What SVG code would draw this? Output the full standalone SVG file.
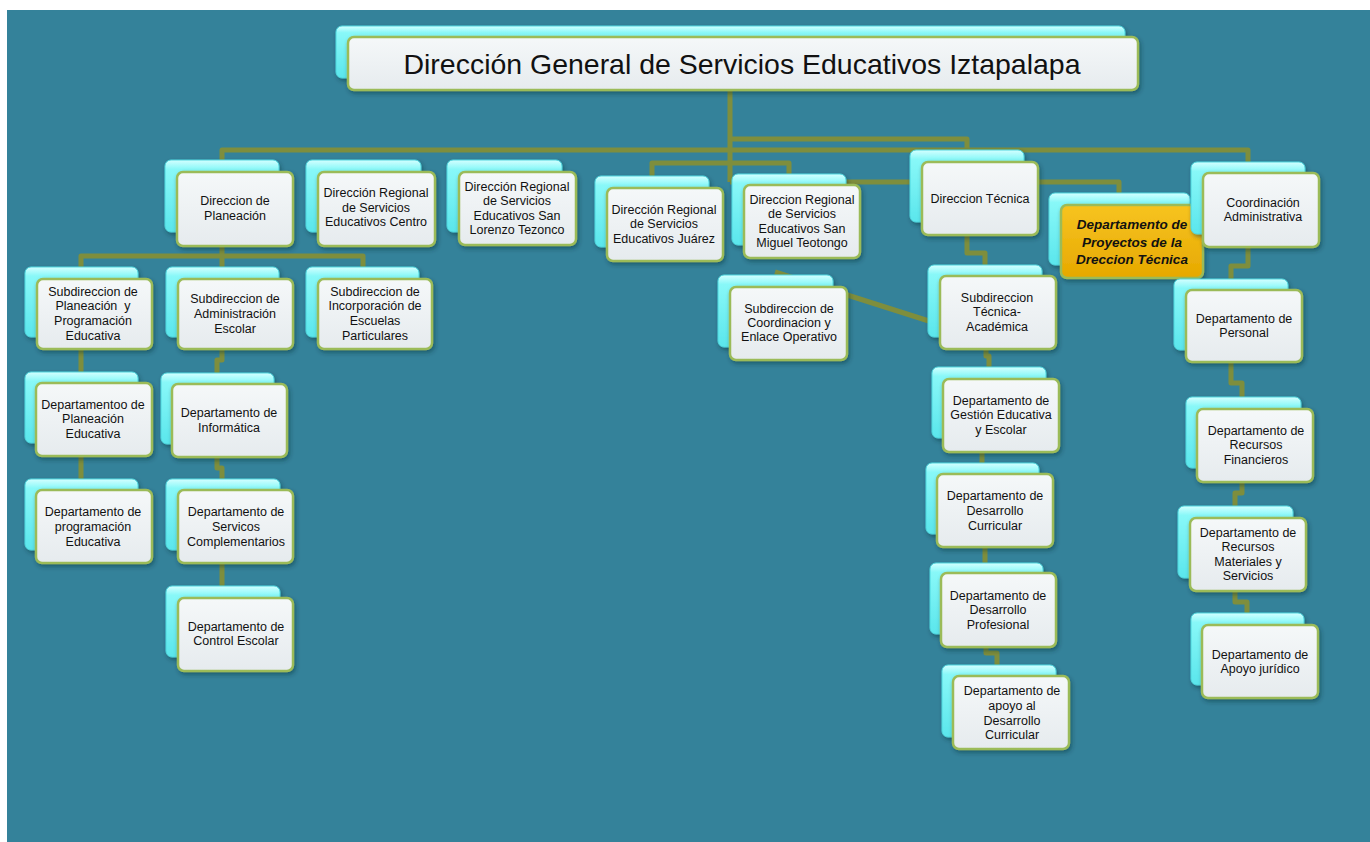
<svg xmlns="http://www.w3.org/2000/svg" width="1370" height="842" viewBox="0 0 1370 842">
<defs>
<linearGradient id="cy" x1="0" y1="0" x2="0" y2="1">
<stop offset="0" stop-color="#D4FFFF"/><stop offset="0.13" stop-color="#88F8F8"/><stop offset="1" stop-color="#5AE6EC"/>
</linearGradient>
<linearGradient id="wh" x1="0" y1="0" x2="0" y2="1">
<stop offset="0" stop-color="#F5F8F9"/><stop offset="1" stop-color="#E6EBEE"/>
</linearGradient>
<linearGradient id="gd" x1="0" y1="0" x2="0" y2="1">
<stop offset="0" stop-color="#F7C420"/><stop offset="1" stop-color="#E6A800"/>
</linearGradient>
<filter id="sh" x="-10%" y="-10%" width="130%" height="140%">
<feDropShadow dx="1.5" dy="2.5" stdDeviation="2" flood-color="#0B2A36" flood-opacity="0.45"/>
</filter>
</defs>
<style>
.back{fill:url(#cy);stroke:#4FD6DE;stroke-width:1;filter:url(#sh)}
.front{fill:url(#wh);stroke:#9BBB59;stroke-width:2.5;filter:url(#sh)}
.gold{fill:url(#gd);stroke:#9BBB59;stroke-width:2.5;filter:url(#sh)}
.t{font-family:"Liberation Sans",Arial,sans-serif;font-size:12.5px;fill:#111;text-anchor:middle}
.tg{font-family:"Liberation Sans",Arial,sans-serif;font-size:13.5px;font-weight:bold;font-style:italic;fill:#111;text-anchor:middle}
.tt{font-family:"Liberation Sans",Arial,sans-serif;font-size:28px;fill:#111;text-anchor:middle}
.c{fill:none;stroke:#7E8E3D;stroke-width:5;stroke-linejoin:round}
</style>
<rect x="0" y="0" width="1370" height="842" fill="#FFFFFF"/>
<rect x="7" y="10" width="1363" height="832" fill="#34829A"/>

<g id="connectors" class="c">
<path d="M730 91 V182"/>
<path d="M730 139 H967 V152"/>
<path d="M222 162 V150 H1248 V164"/>
<path d="M652 178 V163 H789 V176"/>
<path d="M730 182 H1119 V195"/>
<path d="M775 272 L932 322"/>
<path d="M222 246 V256"/>
<path d="M81 269 V256 H363 V269"/>
<path d="M222 256 V269"/>
<path d="M81 349 V374"/>
<path d="M81 456 V481"/>
<path d="M222 349 V360 H217 V375"/>
<path d="M217 457 V468 H222 V481"/>
<path d="M222 563 V588"/>
<path d="M967 235 V253 H985 V267"/>
<path d="M986 349 V356 H989 V369"/>
<path d="M982 452 V465"/>
<path d="M985 547 V565"/>
<path d="M986 647 V653 H997 V667"/>
<path d="M1248 247 V266 H1231 V281"/>
<path d="M1231 362 V383 H1242 V399"/>
<path d="M1242 482 V493 H1235 V508"/>
<path d="M1235 591 V602 H1247 V615"/>
</g>

<g id="n0"><rect class="back" x="336" y="26" width="789" height="52" rx="6"/><rect class="front" x="348" y="37" width="790" height="53" rx="6"/>
<text class="tt" x="742" y="74" textLength="677" lengthAdjust="spacingAndGlyphs">Dirección General de Servicios Educativos Iztapalapa</text></g>

<g id="n1"><rect class="back" x="165" y="160" width="114" height="72" rx="6"/><rect class="front" x="177" y="172" width="116" height="74" rx="6"/>
<text class="t" x="235" y="205">Direccion de</text><text class="t" x="235" y="220">Planeación</text></g>

<g id="n2"><rect class="back" x="306" y="160" width="115" height="72" rx="6"/><rect class="front" x="318" y="172" width="117" height="74" rx="6"/>
<text class="t" x="376" y="197">Dirección Regional</text><text class="t" x="376" y="212">de Servicios</text><text class="t" x="376" y="226">Educativos Centro</text></g>

<g id="n3"><rect class="back" x="447" y="160" width="115" height="72" rx="6"/><rect class="front" x="459" y="172" width="117" height="73" rx="6"/>
<text class="t" x="517" y="191">Dirección Regional</text><text class="t" x="517" y="205">de Servicios</text><text class="t" x="517" y="220">Educativos San</text><text class="t" x="517" y="234">Lorenzo Tezonco</text></g>

<g id="n4"><rect class="back" x="595" y="176" width="114" height="71" rx="6"/><rect class="front" x="607" y="188" width="116" height="73" rx="6"/>
<text class="t" x="664" y="214">Dirección Regional</text><text class="t" x="664" y="228">de Servicios</text><text class="t" x="664" y="243">Educativos Juárez</text></g>

<g id="n5"><rect class="back" x="732" y="174" width="114" height="71" rx="6"/><rect class="front" x="744" y="185" width="116" height="73" rx="6"/>
<text class="t" x="802" y="204">Direccion Regional</text><text class="t" x="802" y="218">de Servicios</text><text class="t" x="802" y="233">Educativos San</text><text class="t" x="802" y="247">Miguel Teotongo</text></g>

<g id="n6"><rect class="back" x="718" y="275" width="115" height="72" rx="6"/><rect class="front" x="730" y="287" width="117" height="73" rx="6"/>
<text class="t" x="789" y="313">Subdireccion de</text><text class="t" x="789" y="327">Coordinacion y</text><text class="t" x="789" y="341">Enlace Operativo</text></g>

<g id="n7"><rect class="back" x="910" y="150" width="114" height="72" rx="6"/><rect class="front" x="922" y="162" width="116" height="73" rx="6"/>
<text class="t" x="980" y="203">Direccion Técnica</text></g>

<g id="n8"><rect class="back" x="1049" y="193" width="141" height="72" rx="6"/><rect class="gold" x="1061" y="205" width="142" height="73" rx="6"/>
<text class="tg" x="1132" y="229">Departamento de</text><text class="tg" x="1132" y="247">Proyectos de la</text><text class="tg" x="1132" y="264">Dreccion Técnica</text></g>

<g id="n9"><rect class="back" x="1191" y="162" width="114" height="72" rx="6"/><rect class="front" x="1203" y="173" width="116" height="74" rx="6"/>
<text class="t" x="1263" y="207">Coordinación</text><text class="t" x="1263" y="221">Administrativa</text></g>

<g id="n10"><rect class="back" x="928" y="265" width="114" height="72" rx="6"/><rect class="front" x="940" y="276" width="116" height="73" rx="6"/>
<text class="t" x="997" y="302">Subdireccion</text><text class="t" x="997" y="316">Técnica-</text><text class="t" x="997" y="331">Académica</text></g>

<g id="n11"><rect class="back" x="1174" y="279" width="114" height="71" rx="6"/><rect class="front" x="1186" y="290" width="116" height="72" rx="6"/>
<text class="t" x="1244" y="323">Departamento de</text><text class="t" x="1244" y="337">Personal</text></g>

<g id="n12"><rect class="back" x="25" y="267" width="113" height="70" rx="6"/><rect class="front" x="37" y="279" width="115" height="70" rx="6"/>
<text class="t" x="93" y="296">Subdireccion de</text><text class="t" x="93" y="310" xml:space="preserve">Planeación  y</text><text class="t" x="93" y="325">Programación</text><text class="t" x="93" y="340">Educativa</text></g>

<g id="n13"><rect class="back" x="166" y="267" width="113" height="70" rx="6"/><rect class="front" x="178" y="279" width="115" height="70" rx="6"/>
<text class="t" x="235" y="303">Subdireccion de</text><text class="t" x="235" y="318">Administración</text><text class="t" x="235" y="333">Escolar</text></g>

<g id="n14"><rect class="back" x="306" y="267" width="113" height="70" rx="6"/><rect class="front" x="318" y="279" width="114" height="70" rx="6"/>
<text class="t" x="375" y="296">Subdireccion de</text><text class="t" x="375" y="310">Incorporación de</text><text class="t" x="375" y="325">Escuelas</text><text class="t" x="375" y="340">Particulares</text></g>

<g id="n15"><rect class="back" x="25" y="372" width="113" height="71" rx="6"/><rect class="front" x="36" y="383" width="116" height="73" rx="6"/>
<text class="t" x="93" y="409">Departamentoo de</text><text class="t" x="93" y="423">Planeación</text><text class="t" x="93" y="438">Educativa</text></g>

<g id="n16"><rect class="back" x="161" y="373" width="113" height="71" rx="6"/><rect class="front" x="172" y="384" width="115" height="73" rx="6"/>
<text class="t" x="229" y="417">Departamento de</text><text class="t" x="229" y="432">Informática</text></g>

<g id="n17"><rect class="back" x="25" y="479" width="113" height="71" rx="6"/><rect class="front" x="36" y="490" width="116" height="73" rx="6"/>
<text class="t" x="93" y="516">Departamento de</text><text class="t" x="93" y="531">programación</text><text class="t" x="93" y="546">Educativa</text></g>

<g id="n18"><rect class="back" x="166" y="479" width="114" height="71" rx="6"/><rect class="front" x="178" y="490" width="115" height="73" rx="6"/>
<text class="t" x="236" y="516">Departamento de</text><text class="t" x="236" y="531">Servicos</text><text class="t" x="236" y="546">Complementarios</text></g>

<g id="n19"><rect class="back" x="166" y="586" width="114" height="71" rx="6"/><rect class="front" x="178" y="598" width="115" height="73" rx="6"/>
<text class="t" x="236" y="631">Departamento de</text><text class="t" x="236" y="645">Control Escolar</text></g>

<g id="n20"><rect class="back" x="932" y="367" width="114" height="71" rx="6"/><rect class="front" x="943" y="379" width="116" height="73" rx="6"/>
<text class="t" x="1001" y="405">Departamento de</text><text class="t" x="1001" y="419">Gestión Educativa</text><text class="t" x="1001" y="434">y Escolar</text></g>

<g id="n21"><rect class="back" x="926" y="463" width="113" height="71" rx="6"/><rect class="front" x="937" y="474" width="116" height="73" rx="6"/>
<text class="t" x="995" y="500">Departamento de</text><text class="t" x="995" y="515">Desarrollo</text><text class="t" x="995" y="530">Curricular</text></g>

<g id="n22"><rect class="back" x="930" y="563" width="113" height="71" rx="6"/><rect class="front" x="941" y="573" width="115" height="74" rx="6"/>
<text class="t" x="998" y="600">Departamento de</text><text class="t" x="998" y="614">Desarrollo</text><text class="t" x="998" y="629">Profesional</text></g>

<g id="n23"><rect class="back" x="942" y="665" width="114" height="72" rx="6"/><rect class="front" x="953" y="676" width="116" height="73" rx="6"/>
<text class="t" x="1012" y="695">Departamento de</text><text class="t" x="1012" y="710">apoyo al</text><text class="t" x="1012" y="725">Desarrollo</text><text class="t" x="1012" y="739">Curricular</text></g>

<g id="n24"><rect class="back" x="1186" y="397" width="115" height="71" rx="6"/><rect class="front" x="1197" y="409" width="116" height="73" rx="6"/>
<text class="t" x="1256" y="435">Departamento de</text><text class="t" x="1256" y="449">Recursos</text><text class="t" x="1256" y="464">Financieros</text></g>

<g id="n25"><rect class="back" x="1178" y="506" width="115" height="72" rx="6"/><rect class="front" x="1190" y="518" width="116" height="73" rx="6"/>
<text class="t" x="1248" y="537">Departamento de</text><text class="t" x="1248" y="551">Recursos</text><text class="t" x="1248" y="566">Materiales y</text><text class="t" x="1248" y="580">Servicios</text></g>

<g id="n26"><rect class="back" x="1191" y="613" width="113" height="72" rx="6"/><rect class="front" x="1202" y="625" width="116" height="73" rx="6"/>
<text class="t" x="1260" y="659">Departamento de</text><text class="t" x="1260" y="673">Apoyo jurídico</text></g>
</svg>
